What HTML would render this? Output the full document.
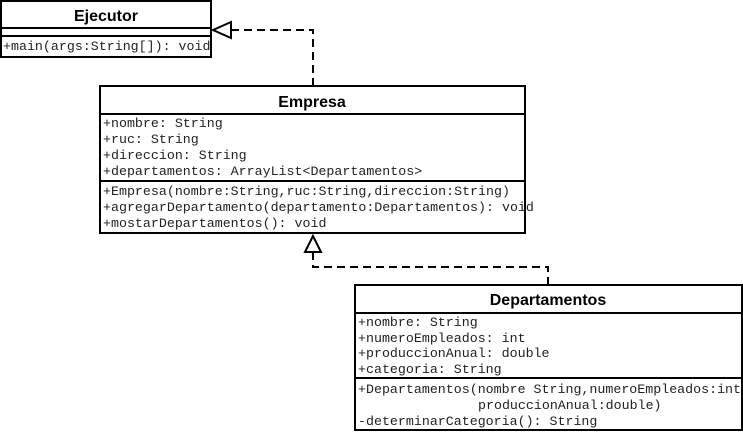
<!DOCTYPE html>
<html><head><meta charset="utf-8"><style>
html,body{margin:0;padding:0;background:#fff;}
svg{display:block}
.m{font-family:"Liberation Mono",monospace;font-size:13.3px;fill:#222;}
.t{font-family:"Liberation Sans",sans-serif;font-weight:bold;font-size:16px;fill:#000;}
</style></head><body>
<svg width="743" height="433" viewBox="0 0 743 433" xmlns="http://www.w3.org/2000/svg">
<defs><clipPath id="c1"><rect x="1" y="1" width="210" height="56"/></clipPath></defs>
<g fill="none" stroke="#000" stroke-width="2" stroke-dasharray="8,5">
<path d="M313,86 V30 H231"/>
<path d="M548,285 V267 H313 V252"/>
</g>
<polygon points="213,30 231,22 231,38" fill="#fff" stroke="#000" stroke-width="2"/>
<polygon points="313,236 305,252 321,252" fill="#fff" stroke="#000" stroke-width="2"/>

<!-- Ejecutor -->
<rect x="1" y="1" width="210" height="56" fill="#fff"/>
<text class="t" x="106" y="21" text-anchor="middle">Ejecutor</text>
<text class="m" x="3" y="50" clip-path="url(#c1)">+main(args:String[]): void</text>
<g fill="none" stroke="#000" stroke-width="2">
<rect x="1" y="1" width="210" height="56"/>
<line x1="1" y1="28" x2="211" y2="28"/><line x1="1" y1="36" x2="211" y2="36"/>
</g>

<!-- Empresa -->
<rect x="100" y="86" width="425" height="147" fill="#fff"/>
<text class="t" x="312" y="107" text-anchor="middle">Empresa</text>
<text class="m" x="103" y="127">+nombre: String</text>
<text class="m" x="103" y="143">+ruc: String</text>
<text class="m" x="103" y="159">+direccion: String</text>
<text class="m" x="103" y="175">+departamentos: ArrayList&lt;Departamentos&gt;</text>
<text class="m" x="103" y="195">+Empresa(nombre:String,ruc:String,direccion:String)</text>
<text class="m" x="103" y="211">+agregarDepartamento(departamento:Departamentos): void</text>
<text class="m" x="103" y="227">+mostarDepartamentos(): void</text>
<g fill="none" stroke="#000" stroke-width="2">
<rect x="100" y="86" width="425" height="147"/>
<line x1="100" y1="114" x2="525" y2="114"/><line x1="100" y1="181" x2="525" y2="181"/>
</g>

<!-- Departamentos -->
<rect x="355" y="285" width="387" height="145" fill="#fff"/>
<text class="t" x="548" y="305" text-anchor="middle">Departamentos</text>
<text class="m" x="358" y="326">+nombre: String</text>
<text class="m" x="358" y="342">+numeroEmpleados: int</text>
<text class="m" x="358" y="357">+produccionAnual: double</text>
<text class="m" x="358" y="373">+categoria: String</text>
<text class="m" x="358" y="393">+Departamentos(nombre String,numeroEmpleados:int</text>
<text class="m" x="478" y="409">produccionAnual:double)</text>
<text class="m" x="358" y="425">-determinarCategoria(): String</text>
<g fill="none" stroke="#000" stroke-width="2">
<rect x="355" y="285" width="387" height="145"/>
<line x1="355" y1="313" x2="742" y2="313"/><line x1="355" y1="378" x2="742" y2="378"/>
</g>
</svg>
</body></html>
